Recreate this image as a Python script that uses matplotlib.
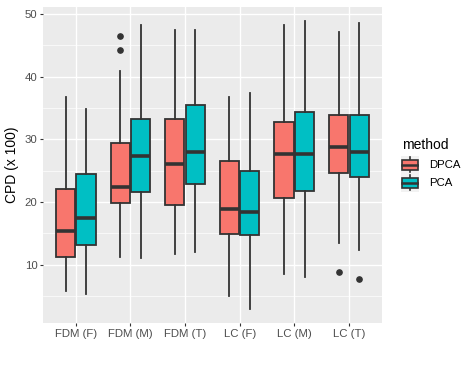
import matplotlib
matplotlib.use("Agg")
import matplotlib.pyplot as plt
import matplotlib.patches as patches

plt.rcParams["font.family"] = ["Liberation Sans", "DejaVu Sans"]

# summary statistics (CPD x 100)
groups = ["FDM (F)", "FDM (M)", "FDM (T)", "LC (F)", "LC (M)", "LC (T)"]
methods = ["DPCA", "PCA"]
colors = {"DPCA": "#F8766D", "PCA": "#00BFC4"}

dpca_whislo = [5.75, 11.2, 11.75, 4.95, 8.5, 13.45]
dpca_q1 = [11.3, 19.8, 19.45, 14.9, 20.6, 24.65]
dpca_med = [15.45, 22.4, 26.0, 18.9, 27.7, 28.8]
dpca_q3 = [22.15, 29.4, 33.25, 26.6, 32.8, 33.8]
dpca_whishi = [36.8, 40.9, 47.5, 36.75, 48.3, 47.1]
dpca_fliers = [[], [46.5, 44.2], [], [], [], [8.85]]

pca_whislo = [5.4, 11.05, 12.0, 2.95, 8.0, 12.4]
pca_q1 = [13.2, 21.6, 22.8, 14.8, 21.8, 24.05]
pca_med = [17.5, 27.4, 28.0, 18.4, 27.7, 28.0]
pca_q3 = [24.5, 33.2, 35.5, 25.0, 34.4, 33.9]
pca_whishi = [34.8, 48.2, 47.5, 37.4, 48.85, 48.5]
pca_fliers = [[], [], [], [], [], [7.7]]

series = {
    "DPCA": (dpca_whislo, dpca_q1, dpca_med, dpca_q3, dpca_whishi, dpca_fliers),
    "PCA": (pca_whislo, pca_q1, pca_med, pca_q3, pca_whishi, pca_fliers),
}

W, H = 474, 365
fig = plt.figure(figsize=(W / 100, H / 100), dpi=100)
fig.patch.set_facecolor("white")

x0, x1, ytop, ybot = 43, 381.7, 7, 323
ax = fig.add_axes([x0 / W, 1 - ybot / H, (x1 - x0) / W, (ybot - ytop) / H])
ax.set_facecolor("#EBEBEB")
for s in ax.spines.values():
    s.set_visible(False)

edge = "#333333"
offsets = {"DPCA": -0.1875, "PCA": 0.1875}
for m in methods:
    lo, q1, med, q3, hi, fl = series[m]
    stats = []
    for i in range(len(groups)):
        stats.append({"whislo": lo[i], "q1": q1[i], "med": med[i],
                      "q3": q3[i], "whishi": hi[i], "fliers": fl[i]})
    pos = [i + 1 + offsets[m] for i in range(len(groups))]
    ax.bxp(stats, positions=pos, widths=0.35, patch_artist=True,
           showcaps=False, manage_ticks=False,
           boxprops=dict(facecolor=colors[m], edgecolor=edge, linewidth=1.3),
           whiskerprops=dict(color=edge, linewidth=1.3),
           medianprops=dict(color=edge, linewidth=2.6, solid_capstyle="butt"),
           flierprops=dict(marker="o", markerfacecolor=edge, markeredgecolor=edge,
                           markersize=3.8, linestyle="none"),
           zorder=3)

ax.set_xlim(0.4, 6.6)
ax.set_ylim(0.7, 51.1)
ax.set_xticks(range(1, len(groups) + 1))
ax.set_xticklabels(groups)
ax.set_yticks([10, 20, 30, 40, 50])
ax.set_yticks([5, 15, 25, 35, 45], minor=True)
ax.set_xticks([], minor=True)
ax.grid(True, which="major", color="white", linewidth=1.0, zorder=0)
ax.grid(True, which="minor", axis="y", color="white", linewidth=0.5, zorder=0)
ax.set_axisbelow(True)
ax.tick_params(axis="both", which="major", length=2.5, width=0.8, color="#333333",
               labelsize=8.2, labelcolor="#4D4D4D", pad=1.5)
ax.tick_params(axis="y", which="minor", length=0)
ax.set_ylabel("CPD (x 100)", fontsize=10, color="black", labelpad=4)

# legend drawn by hand, ggplot style
fig.text(402 / W, 1 - 145 / H, "method", fontsize=10, ha="left", va="center")
for k, m in enumerate(methods):
    cy = 164.8 + k * 18.0
    lax = fig.add_axes([400.5 / W, 1 - (cy + 9) / H, 19 / W, 18 / H])
    lax.set_xlim(0, 1)
    lax.set_ylim(0, 1)
    lax.axis("off")
    lax.add_patch(patches.Rectangle((0, 0), 1, 1, facecolor="#F2F2F2",
                                    edgecolor="none"))
    lax.plot([0.5, 0.5], [0.08, 0.92], color=edge, linewidth=1.2)
    lax.add_patch(patches.Rectangle((0.1, 0.23), 0.8, 0.54, facecolor=colors[m],
                                    edgecolor=edge, linewidth=1.2, zorder=3))
    lax.plot([0.1, 0.9], [0.5, 0.5], color=edge, linewidth=1.8, zorder=4)
    fig.text(429 / W, 1 - cy / H, m, fontsize=8.2, ha="left", va="center")

fig.savefig("out.png", dpi=100, facecolor=fig.get_facecolor())
